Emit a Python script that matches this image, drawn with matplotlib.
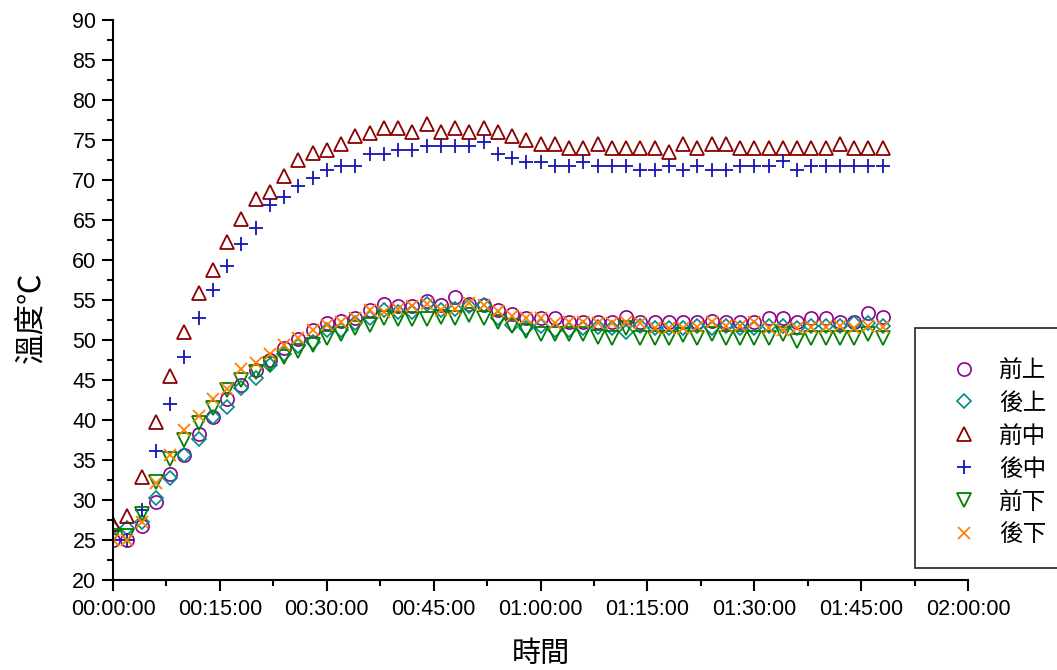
import matplotlib
matplotlib.use("Agg")
import matplotlib.pyplot as plt
from matplotlib.patches import Rectangle
from matplotlib.ticker import MultipleLocator

plt.rcParams['font.family'] = ['Liberation Sans', 'Noto Sans CJK TC', 'DejaVu Sans']

# time in minutes
minutes = list(range(0, 110, 2))

front_top = [25, 25, 26.75, 29.8, 33.3, 35.6, 38.2, 40.4, 42.6, 44.4, 46.25, 47.5, 49.0, 50.1,
             51.25, 52.1, 52.4, 52.7, 53.8, 54.5, 54.25, 54.25, 54.9, 54.4, 55.4, 54.5, 54.4,
             53.8, 53.3, 52.7, 52.7, 52.7, 52.3, 52.3, 52.3, 52.3, 52.9, 52.3, 52.3, 52.3, 52.3,
             52.3, 52.4, 52.3, 52.3, 52.3, 52.8, 52.8, 52.3, 52.8, 52.8, 52.3, 52.3, 53.4, 52.9]
back_top = [26.5, 26.5, 27.2, 30.2, 32.7, 35.6, 37.6, 40.4, 41.6, 44.0, 45.3, 46.9, 48.3, 49.3,
            49.8, 51.25, 51.25, 52.1, 52.7, 53.7, 53.5, 53.5, 54.5, 53.7, 53.9, 54.2, 54.4,
            52.7, 51.9, 51.5, 51.7, 51.25, 51.25, 51.5, 51.6, 51.5, 51.0, 51.7, 51.5, 51.5,
            51.5, 51.7, 51.5, 51.7, 51.5, 51.5, 51.7, 51.7, 51.5, 51.8, 51.8, 51.8, 52.1, 52.1, 51.8]
front_mid = [27.0, 28.0, 32.9, 39.8, 45.5, 51.0, 55.9, 58.75, 62.2, 65.1, 67.6, 68.5, 70.5, 72.5,
             73.4, 73.8, 74.5, 75.5, 75.9, 76.45, 76.5, 76.0, 77.0, 76.0, 76.5, 76.0, 76.5,
             76.0, 75.5, 75.0, 74.5, 74.5, 74.0, 74.0, 74.5, 74.0, 74.0, 74.0, 74.0, 73.5,
             74.5, 74.0, 74.5, 74.5, 74.0, 74.0, 74.0, 74.0, 74.0, 74.0, 74.0, 74.5, 74.0, 74.0, 74.0]
back_mid = [25, 25, 28.8, 36.1, 42.0, 47.9, 52.7, 56.2, 59.2, 62.0, 64.0, 66.9, 67.9, 69.3,
            70.2, 71.3, 71.75, 71.75, 73.25, 73.25, 73.75, 73.75, 74.2, 74.2, 74.2, 74.2, 74.7,
            73.25, 72.8, 72.3, 72.3, 71.8, 71.8, 72.3, 71.8, 71.8, 71.8, 71.25, 71.25, 71.8,
            71.25, 71.8, 71.25, 71.25, 71.8, 71.8, 71.8, 72.4, 71.25, 71.8, 71.8, 71.8, 71.8, 71.8, 71.8]
front_bot = [25.5, 25.5, 28.3, 32.3, 35.1, 37.5, 39.6, 41.5, 43.75, 45.0, 46.0, 47.0, 47.9, 48.6,
             49.4, 50.2, 50.8, 51.5, 51.9, 52.7, 52.6, 52.6, 52.6, 52.9, 52.7, 53.1, 52.7,
             52.3, 51.7, 51.1, 50.8, 50.7, 50.8, 50.8, 50.4, 50.3, 51.5, 50.3, 50.3, 50.3,
             50.6, 50.3, 50.8, 50.3, 50.3, 50.3, 50.3, 50.8, 49.9, 50.3, 50.3, 50.3, 50.3, 50.8, 50.3]
back_bot = [25, 25, 27.3, 32.1, 35.6, 38.75, 40.5, 42.6, 43.9, 46.4, 47.1, 48.3, 49.4, 50.3,
            51.3, 51.9, 52.3, 52.8, 53.7, 53.5, 53.9, 54.25, 54.5, 53.8, 53.9, 54.6, 54.4,
            53.6, 53.0, 52.7, 52.7, 52.1, 52.2, 52.3, 52.1, 52.1, 52.3, 52.1, 51.5, 51.5,
            51.5, 51.6, 52.3, 51.7, 51.7, 52.3, 51.5, 51.3, 51.5, 51.6, 51.6, 51.8, 51.5, 51.8, 51.6]

labels = ['前上', '後上', '前中', '後中', '前下', '後下']
x_tick_labels = ['00:00:00', '00:15:00', '00:30:00', '00:45:00', '01:00:00',
                 '01:15:00', '01:30:00', '01:45:00', '02:00:00']

fig = plt.figure(figsize=(10.57, 6.70), dpi=100)
ax = fig.add_axes([113/1057, 90/670, 855/1057, 560/670])

series = [front_top, back_top, front_mid, back_mid, front_bot, back_bot]
styles = [
    dict(marker='o', color='#8B008B', ms=9.5, mfc='none', mew=1.2),
    dict(marker='D', color='#008B8B', ms=7.5, mfc='none', mew=1.2),
    dict(marker='^', color='#8B0000', ms=10.5, mfc='none', mew=1.3),
    dict(marker='+', color='#1414B4', ms=10, mew=1.3),
    dict(marker='v', color='#008000', ms=10.5, mfc='none', mew=1.3),
    dict(marker='x', color='#FF8000', ms=9, mew=1.3),
]
handles = []
for ys, st, lab in zip(series, styles, labels):
    h, = ax.plot(minutes, ys, linestyle='none', label=lab, **st)
    handles.append(h)

ax.set_xlim(0, 120)
ax.set_ylim(20, 90)
ax.set_xticks(range(0, 121, 15))
ax.set_xticklabels(x_tick_labels)
ax.xaxis.set_minor_locator(MultipleLocator(7.5))
ax.yaxis.set_major_locator(MultipleLocator(5))
ax.yaxis.set_minor_locator(MultipleLocator(2.5))
for s in ['top', 'right']:
    ax.spines[s].set_visible(False)
for s in ['left', 'bottom']:
    ax.spines[s].set_linewidth(1.5)
ax.tick_params(which='major', direction='out', length=8, width=1.5, labelsize=15.5, pad=4)
ax.tick_params(which='minor', direction='out', length=4.5, width=1.5)
ax.tick_params(axis='x', which='major', pad=6)

ax.set_xlabel('時間', fontsize=21, family=['Noto Sans CJK TC'], labelpad=13)
ax.set_ylabel('溫度℃', fontsize=22, family=['Noto Sans CJK TC', 'DejaVu Sans'])
ax.yaxis.set_label_coords(-0.078, 0.47)

# legend box
rect = Rectangle((915/1057, 1 - 568/670), 150/1057, 240/670, transform=fig.transFigure,
                 facecolor='white', edgecolor='#222222', linewidth=1.2, zorder=5)
fig.patches.append(rect)
leg = fig.legend(handles=handles, labels=labels, loc='upper left',
                 bbox_to_anchor=(938/1057, 1 - 347/670), frameon=False,
                 prop={'family': ['Noto Sans CJK TC'], 'size': 17},
                 handletextpad=0.9, labelspacing=0.42, handlelength=1.2, borderpad=0)
leg.set_zorder(6)

fig.savefig('out.png', dpi=100)
